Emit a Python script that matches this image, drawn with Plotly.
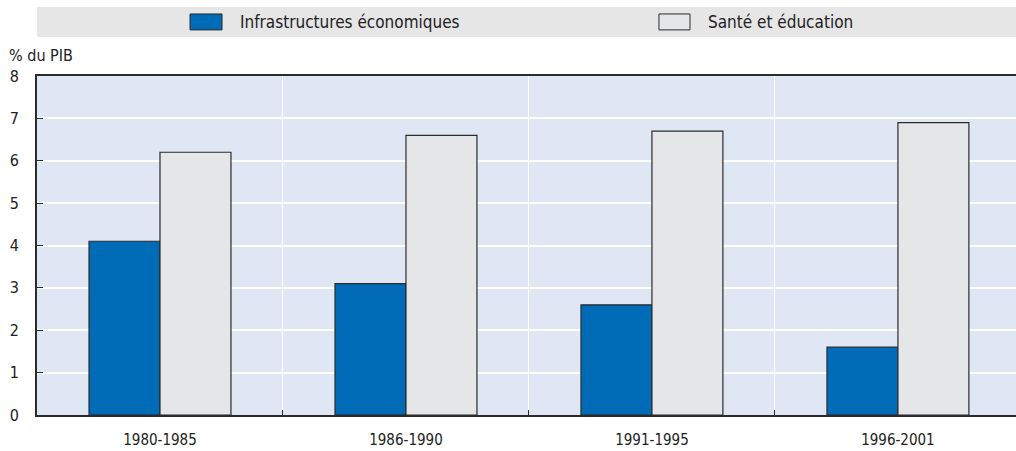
import plotly.graph_objects as go

periods = ["1980-1985", "1986-1990", "1991-1995", "1996-2001"]
infra = [4.1, 3.1, 2.6, 1.6]
sante = [6.2, 6.6, 6.7, 6.9]
series_names = ["Infrastructures économiques", "Santé et éducation"]
y_ticks = [0, 1, 2, 3, 4, 5, 6, 7, 8]

BLUE = "#006bb6"
GREY = "#e5e6e8"
EDGE = "#2b2b2b"
PLOT_BG = "#dfe6f4"
FONT = "DejaVu Sans Condensed, Roboto, sans-serif"

fig = go.Figure()
fig.add_bar(x=periods, y=infra, name=series_names[0], marker=dict(color=BLUE, line=dict(color=EDGE, width=1.2)), showlegend=False)
fig.add_bar(x=periods, y=sante, name=series_names[1], marker=dict(color=GREY, line=dict(color=EDGE, width=1.2)), showlegend=False)

fig.update_layout(
    width=1016, height=451,
    margin=dict(l=37, r=0, t=76, b=36),
    paper_bgcolor="white", plot_bgcolor=PLOT_BG,
    barmode="group", bargap=0.423, bargroupgap=0,
    font=dict(family=FONT, size=16, color="#222"),
    xaxis=dict(range=[-0.5, 3.48], tickson="boundaries", showgrid=True, gridcolor="white", gridwidth=1,
               ticks="inside", ticklen=5, tickcolor=EDGE, showline=True, linecolor=EDGE, linewidth=2,
               mirror=True, ticklabelstandoff=10, tickfont=dict(size=15)),
    yaxis=dict(range=[0, 8], tickvals=y_ticks, showgrid=True, gridcolor="white", gridwidth=1.5,
               ticks="inside", ticklen=6, tickcolor=EDGE, showline=True, linecolor=EDGE, linewidth=2,
               zeroline=False, ticklabelstandoff=13, tickfont=dict(size=16)),
    shapes=[
        dict(type="rect", xref="paper", yref="paper", x0=0, x1=1.0, y0=1.115, y1=1.2035,
             fillcolor="#e6e6e6", line=dict(width=0), layer="below"),
        dict(type="rect", xref="paper", yref="paper", x0=0.1563, x1=0.189, y0=1.136, y1=1.183,
             fillcolor=BLUE, line=dict(color=EDGE, width=1)),
        dict(type="rect", xref="paper", yref="paper", x0=0.6353, x1=0.667, y0=1.136, y1=1.183,
             fillcolor=GREY, line=dict(color=EDGE, width=1)),
    ],
    annotations=[
        dict(text=series_names[0], xref="paper", yref="paper", x=0.2053, y=1.159, xanchor="left", yanchor="middle",
             showarrow=False, font=dict(size=17)),
        dict(text=series_names[1], xref="paper", yref="paper", x=0.6834, y=1.159, xanchor="left", yanchor="middle",
             showarrow=False, font=dict(size=17)),
        dict(text="% du PIB", xref="paper", yref="paper", x=-0.0306, y=1.059, xanchor="left", yanchor="middle",
             showarrow=False, font=dict(size=16)),
    ],
)

fig.write_html("out.html", config={"displayModeBar": False},
               post_script="document.body.style.margin='0';document.body.style.overflow='hidden';")
